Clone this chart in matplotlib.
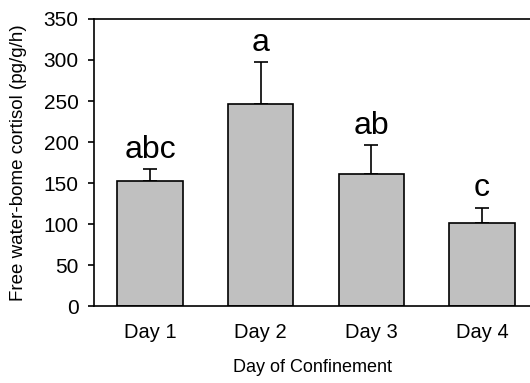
import matplotlib
matplotlib.use("Agg")
import matplotlib.pyplot as plt

plt.rcParams['font.family'] = ['Liberation Sans', 'DejaVu Sans']

days = ["Day 1", "Day 2", "Day 3", "Day 4"]
cortisol = [152, 246, 161, 101]
sem = [15, 51, 35, 19]
groups = ["abc", "a", "ab", "c"]
yticks = [0, 50, 100, 150, 200, 250, 300, 350]

fig = plt.figure(figsize=(5.30, 3.83), dpi=100)
ax = fig.add_axes([0.1774, 0.201, 1.0 - 0.1774, 0.9504 - 0.201])

x = list(range(len(days)))
ax.bar(x, cortisol, width=0.59, color="#c0c0c0", edgecolor="black",
       linewidth=1.2, zorder=2)
ax.errorbar(x, cortisol, yerr=[[0] * len(sem), sem], fmt="none",
            ecolor="black", elinewidth=1.2, capsize=4.8, capthick=1.2,
            zorder=1)

for xi, v, e, g in zip(x, cortisol, sem, groups):
    ax.text(xi, v + e + 14, g, ha="center", va="baseline", fontsize=23)

ax.set_xlim(-0.506, 3.434)
ax.set_ylim(0, 350)
ax.set_yticks(yticks)
ax.set_xticks(x)
ax.set_xticklabels(days)

ax.spines['right'].set_visible(False)
for s in ['left', 'top', 'bottom']:
    ax.spines[s].set_linewidth(1.2)

ax.tick_params(axis='y', length=4.5, width=1.2, pad=6.5, labelsize=15)
ax.tick_params(axis='x', length=0, pad=12, labelsize=14.5)

ax.set_xlabel("Day of Confinement", fontsize=13)
ax.xaxis.set_label_coords(0.5, -0.183)
ax.set_ylabel("Free water-bome cortisol (pg/g/h)", fontsize=13.5)
ax.yaxis.set_label_coords(-0.153, 0.5)

fig.savefig("out.png", dpi=100)
